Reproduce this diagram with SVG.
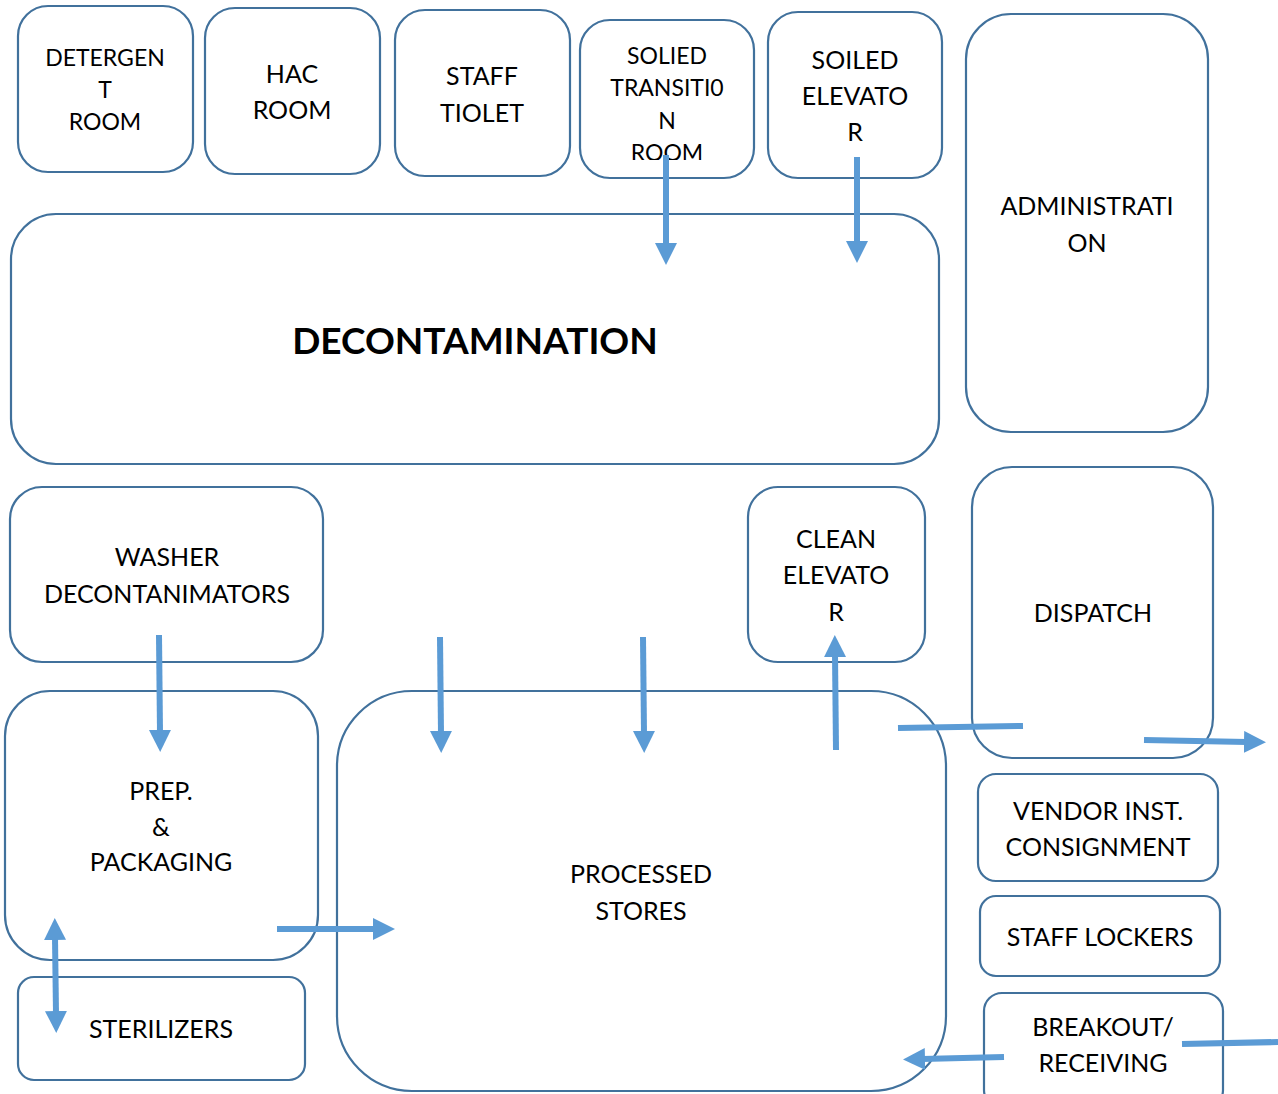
<svg xmlns="http://www.w3.org/2000/svg" width="1278" height="1094" viewBox="0 0 1278 1094">
<style>
.box{fill:#fff;stroke:#41719c;stroke-width:2.2}
text{font-family:Lato,"Liberation Sans",sans-serif;font-size:25px;fill:#000;text-anchor:middle}
.s{font-size:23px}
.b{font-weight:bold;font-size:37px}
.c{stroke:#5b9bd5;stroke-width:6;fill:none}
</style>
<defs>
<marker id="ah" markerUnits="userSpaceOnUse" markerWidth="24" markerHeight="24" refX="3" refY="11" orient="auto">
<path d="M0,0 L22,11 L0,22 z" fill="#5b9bd5"/>
</marker>
<marker id="ad" markerUnits="userSpaceOnUse" markerWidth="24" markerHeight="24" refX="3" refY="11" orient="auto-start-reverse">
<path d="M0,0 L22,11 L0,22 z" fill="#5b9bd5"/>
</marker>
<clipPath id="clipSol"><rect x="580" y="20" width="175" height="140"/></clipPath>
</defs>
<rect width="1278" height="1094" fill="#fff"/>
<g id="detergent"><rect class="box" x="18" y="6" width="175" height="166" rx="30"/><text class="s"><tspan x="105" y="66">DETERGEN</tspan><tspan x="105" y="98">T</tspan><tspan x="105" y="130">ROOM</tspan></text></g>
<g id="hac"><rect class="box" x="205" y="8" width="175" height="166" rx="30"/><text><tspan x="292" y="83">HAC</tspan><tspan x="292" y="119">ROOM</tspan></text></g>
<g id="staff-toilet"><rect class="box" x="395" y="10" width="175" height="166" rx="30"/><text><tspan x="482" y="85">STAFF</tspan><tspan x="482" y="122">TIOLET</tspan></text></g>
<g id="soiled-transition"><rect class="box" x="580" y="20" width="174" height="158" rx="30"/><text class="s" clip-path="url(#clipSol)"><tspan x="667" y="64">SOLIED</tspan><tspan x="667" y="96">TRANSITI0</tspan><tspan x="667" y="129">N</tspan><tspan x="667" y="161">ROOM</tspan></text></g>
<g id="soiled-elevator"><rect class="box" x="768" y="12" width="174" height="166" rx="30"/><text><tspan x="855" y="69">SOILED</tspan><tspan x="855" y="105">ELEVATO</tspan><tspan x="855" y="141">R</tspan></text></g>
<g id="administration"><rect class="box" x="966" y="14" width="242" height="418" rx="45"/><text><tspan x="1087" y="215">ADMINISTRATI</tspan><tspan x="1087" y="252">ON</tspan></text></g>
<g id="decontamination"><rect class="box" x="11" y="214" width="928" height="250" rx="45"/><text class="b" x="475" y="354">DECONTAMINATION</text></g>
<g id="washer"><rect class="box" x="10" y="487" width="313" height="175" rx="32"/><text><tspan x="167" y="566">WASHER</tspan><tspan x="167" y="603">DECONTANIMATORS</tspan></text></g>
<g id="clean-elevator"><rect class="box" x="748" y="487" width="177" height="175" rx="30"/><text><tspan x="836" y="548">CLEAN</tspan><tspan x="836" y="584">ELEVATO</tspan><tspan x="836" y="621">R</tspan></text></g>
<g id="dispatch"><rect class="box" x="972" y="467" width="241" height="291" rx="40"/><text x="1093" y="622">DISPATCH</text></g>
<g id="prep"><rect class="box" x="5" y="691" width="313" height="269" rx="45"/><text><tspan x="161" y="800">PREP.</tspan><tspan x="161" y="836">&amp;</tspan><tspan x="161" y="871">PACKAGING</tspan></text></g>
<g id="processed-stores"><rect class="box" x="337" y="691" width="609" height="400" rx="75"/><text><tspan x="641" y="883">PROCESSED</tspan><tspan x="641" y="920">STORES</tspan></text></g>
<g id="vendor"><rect class="box" x="978" y="774" width="240" height="107" rx="18"/><text><tspan x="1098" y="820">VENDOR INST.</tspan><tspan x="1098" y="856">CONSIGNMENT</tspan></text></g>
<g id="staff-lockers"><rect class="box" x="980" y="896" width="240" height="80" rx="16"/><text x="1100" y="946">STAFF LOCKERS</text></g>
<g id="breakout"><rect class="box" x="984" y="993" width="239" height="115" rx="18"/><text><tspan x="1103" y="1036">BREAKOUT/</tspan><tspan x="1103" y="1072">RECEIVING</tspan></text></g>
<g id="sterilizers"><rect class="box" x="18" y="977" width="287" height="103" rx="16"/><text x="161" y="1038">STERILIZERS</text></g>
<g id="connectors">
<line class="c" x1="666" y1="155" x2="666" y2="246" marker-end="url(#ah)"/>
<line class="c" x1="857" y1="157" x2="857" y2="244" marker-end="url(#ah)"/>
<line class="c" x1="159" y1="635" x2="160" y2="733" marker-end="url(#ah)"/>
<line class="c" x1="440" y1="637" x2="441" y2="734" marker-end="url(#ah)"/>
<line class="c" x1="643" y1="637" x2="644" y2="734" marker-end="url(#ah)"/>
<line class="c" x1="836" y1="750" x2="835" y2="654" marker-end="url(#ah)"/>
<line class="c" x1="898" y1="728" x2="1023" y2="726"/>
<line class="c" x1="1144" y1="740" x2="1247" y2="742" marker-end="url(#ah)"/>
<line class="c" x1="277" y1="929" x2="376" y2="929" marker-end="url(#ah)"/>
<line class="c" x1="55" y1="937" x2="56" y2="1014" marker-start="url(#ad)" marker-end="url(#ad)"/>
<line class="c" x1="1004" y1="1057" x2="922" y2="1059" marker-end="url(#ah)"/>
<line class="c" x1="1182" y1="1044" x2="1278" y2="1042"/>
</g>
</svg>
